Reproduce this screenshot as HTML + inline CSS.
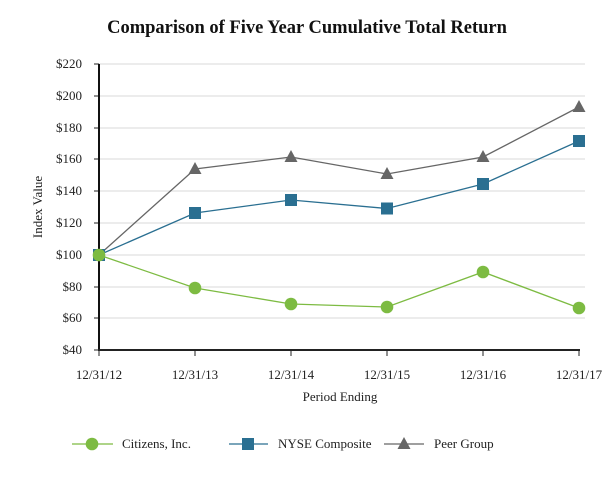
<!DOCTYPE html>
<html><head><meta charset="utf-8"><style>
body{margin:0;background:#fff;}
svg{display:block;font-family:"Liberation Serif",serif;}
</style></head><body>
<svg width="613" height="480" xmlns="http://www.w3.org/2000/svg">
<text x="307" y="33" text-anchor="middle" font-size="18.5" font-weight="bold" fill="#111">Comparison of Five Year Cumulative Total Return</text>
<g stroke="#e6e6e6" stroke-width="1.5">
<line x1="99" x2="585" y1="64" y2="64"/><line x1="99" x2="585" y1="96" y2="96"/><line x1="99" x2="585" y1="128" y2="128"/><line x1="99" x2="585" y1="159" y2="159"/><line x1="99" x2="585" y1="191" y2="191"/><line x1="99" x2="585" y1="223" y2="223"/><line x1="99" x2="585" y1="255" y2="255"/><line x1="99" x2="585" y1="287" y2="287"/><line x1="99" x2="585" y1="318" y2="318"/>
</g>
<g stroke="#222" stroke-width="1">
<line x1="94" x2="99" y1="64" y2="64"/><line x1="94" x2="99" y1="96" y2="96"/><line x1="94" x2="99" y1="128" y2="128"/><line x1="94" x2="99" y1="159" y2="159"/><line x1="94" x2="99" y1="191" y2="191"/><line x1="94" x2="99" y1="223" y2="223"/><line x1="94" x2="99" y1="255" y2="255"/><line x1="94" x2="99" y1="287" y2="287"/><line x1="94" x2="99" y1="318" y2="318"/><line x1="94" x2="99" y1="350" y2="350"/>
<line x1="99" x2="99" y1="350" y2="356"/><line x1="195" x2="195" y1="350" y2="356"/><line x1="291" x2="291" y1="350" y2="356"/><line x1="387" x2="387" y1="350" y2="356"/><line x1="483" x2="483" y1="350" y2="356"/><line x1="579" x2="579" y1="350" y2="356"/>
</g>
<line x1="99" x2="99" y1="64" y2="351" stroke="#111" stroke-width="2"/>
<line x1="98" x2="580" y1="350" y2="350" stroke="#222" stroke-width="2"/>
<g font-size="13" fill="#222" text-anchor="end">
<text x="82" y="68">$220</text><text x="82" y="100">$200</text><text x="82" y="132">$180</text><text x="82" y="163">$160</text><text x="82" y="195">$140</text><text x="82" y="227">$120</text><text x="82" y="259">$100</text><text x="82" y="291">$80</text><text x="82" y="322">$60</text><text x="82" y="354">$40</text>
</g>
<g font-size="13" fill="#222" text-anchor="middle">
<text x="99" y="379">12/31/12</text><text x="195" y="379">12/31/13</text><text x="291" y="379">12/31/14</text><text x="387" y="379">12/31/15</text><text x="483" y="379">12/31/16</text><text x="579" y="379">12/31/17</text>
<text x="340" y="401">Period Ending</text>
<text transform="translate(42,207) rotate(-90)">Index Value</text>
</g>
<polyline fill="none" stroke="#666" stroke-width="1.3" points="99,255 195,169 291,157 387,174 483,157 579,107"/>
<g fill="#666">
<polygon points="195,162 201.5,174 188.5,174"/><polygon points="291,150 297.5,162 284.5,162"/><polygon points="387,167 393.5,179 380.5,179"/><polygon points="483,150 489.5,162 476.5,162"/><polygon points="579,100 585.5,112 572.5,112"/>
</g>
<polyline fill="none" stroke="#2a6f91" stroke-width="1.3" points="99,255 195,213 291,200 387,208.5 483,184 579,141"/>
<g fill="#2a6f91">
<rect x="93" y="249" width="12" height="12"/><rect x="189" y="207" width="12" height="12"/><rect x="285" y="194" width="12" height="12"/><rect x="381" y="202.5" width="12" height="12"/><rect x="477" y="178" width="12" height="12"/><rect x="573" y="135" width="12" height="12"/>
</g>
<polyline fill="none" stroke="#7dbb42" stroke-width="1.3" points="99,255 195,288 291,304 387,307 483,272 579,308"/>
<g fill="#7dbb42">
<circle cx="99" cy="255" r="6.3"/><circle cx="195" cy="288" r="6.3"/><circle cx="291" cy="304" r="6.3"/><circle cx="387" cy="307" r="6.3"/><circle cx="483" cy="272" r="6.3"/><circle cx="579" cy="308" r="6.3"/>
</g>
<line x1="72" x2="113" y1="444" y2="444" stroke="#7dbb42" stroke-width="1.3"/>
<circle cx="92" cy="444" r="6.3" fill="#7dbb42"/>
<line x1="229" x2="268" y1="444" y2="444" stroke="#2a6f91" stroke-width="1.3"/>
<rect x="242" y="438" width="12" height="12" fill="#2a6f91"/>
<line x1="384" x2="424" y1="444" y2="444" stroke="#666" stroke-width="1.3"/>
<polygon points="404,437 410.5,449 397.5,449" fill="#666"/>
<g font-size="13" fill="#222">
<text x="122" y="448">Citizens, Inc.</text><text x="278" y="448">NYSE Composite</text><text x="434" y="448">Peer Group</text>
</g>
</svg>
</body></html>
